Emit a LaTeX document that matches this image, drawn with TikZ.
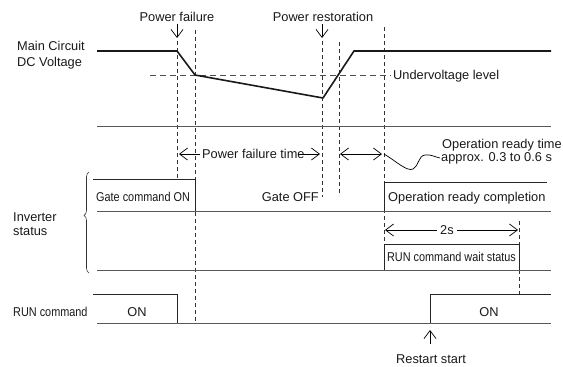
\documentclass[tikz,border=0pt]{standalone}
\usepackage{fontspec}
\usepackage{graphicx}
\setmainfont{Liberation Sans}
\usetikzlibrary{arrows.meta,decorations.pathreplacing}
\newcommand\condtxt[1]{\scalebox{0.85}[1]{#1}}
\begin{document}
\begin{tikzpicture}[x=1pt,y=-1pt,
  txt/.style={font=\fontsize{12.8}{15}\selectfont, inner sep=0pt, text=black!90},
  baseln/.style={line width=1pt, draw=black!65},
  sig/.style={line width=0.8pt, draw=black!85},
  volt/.style={line width=1.6pt, draw=black!90},
  vdash/.style={line width=0.6pt, draw=black!80, dash pattern=on 4pt off 3pt},
  hdash/.style={line width=0.6pt, draw=black!70, dash pattern=on 6pt off 4pt},
  arr/.style={line width=0.7pt, -{Straight Barb[length=8pt,width=12pt]}},
  darr/.style={line width=0.7pt, {Straight Barb[length=8pt,width=12pt]}-{Straight Barb[length=8pt,width=12pt]}},
]
\useasboundingbox (0,0) rectangle (563,367);

% texts
\node[txt, anchor=base] (pf) at (177,21) {Power failure};
\node[txt, anchor=base] (pr) at (323,21) {Power restoration};
\node[txt, anchor=base west] (mc) at (17,50) {Main Circuit};
\node[txt, anchor=base west] (dc) at (17,66) {DC Voltage};
\node[txt, anchor=base west] (uv) at (393,79.5) {Undervoltage level};
\node[txt, anchor=base west] (pft) at (202,158.5) {Power failure time};
\node[txt, anchor=base west] (ort) at (442,148) {Operation ready time};
\node[txt, anchor=base west] (apx) at (441,161) {approx. 0.3 to 0.6 s};
\node[txt, anchor=base west] (gon) at (96,201.5) {\condtxt{Gate command ON}};
\node[txt, anchor=base east] (goff) at (319,201.5) {Gate OFF};
\node[txt, anchor=base west] (orc) at (388,201.5) {Operation ready completion};
\node[txt, anchor=base] (two) at (447,234.5) {2s};
\node[txt, anchor=base] (rcw) at (451.5,261.5) {\condtxt{RUN command wait status}};
\node[txt, anchor=base west] (inv) at (13,221) {Inverter};
\node[txt, anchor=base west] (sts) at (13,235) {status};
\node[txt, anchor=base west] (runc) at (13,316.5) {\condtxt{RUN command}};
\node[txt, anchor=base] (on1) at (137,316.5) {ON};
\node[txt, anchor=base] (on2) at (489,316.5) {ON};
\node[txt, anchor=base] (rs) at (431,363) {Restart start};

% event arrows
\draw[arr] (177,24) -- (177,38);
\draw[arr] (322,24) -- (322,38);
\draw[arr] (430,344) -- (430,330);

% vertical dashed lines
\draw[vdash] (177,41) -- (177,179);
\draw[vdash] (195,30) -- (195,323);
\draw[vdash] (322,41) -- (322,197);
\draw[vdash] (339,42) -- (339,196);
\draw[vdash] (384,27) -- (384,244);
\draw[vdash] (519,221) -- (519,294);

% undervoltage level
\draw[hdash] (150,75.5) -- (391,75.5);

% main circuit DC voltage
\draw[volt, line join=round] (97,51) -- (177,51) -- (195,75) -- (323,98) -- (354,51) -- (551,51);
\draw[baseln] (97,126) -- (551,126);

% power failure time arrows
\draw[arr] (200,154) -- (179,154);
\draw[arr] (298,154) -- (320,154);
\draw[darr] (340,154) -- (382,154);

% wavy leader
\draw[line width=0.7pt] (384,154) .. controls (396,161) and (407,172) .. (413,169)
  .. controls (419,166) and (418,156) .. (425,155)
  .. controls (430,154) and (435,157) .. (440,158);

% inverter status: gate row
\draw[sig] (93,179) -- (195,179) -- (195,211);
\draw[sig] (547,182) -- (384,182) -- (384,211);
\draw[baseln] (97,211) -- (551,211);

% 2s arrows
\draw[arr] (437,230) -- (385,230);
\draw[arr] (457,230) -- (518,230);

% run command wait status
\draw[sig] (384,270) -- (384,244) -- (519,244) -- (519,270);
\draw[baseln] (97,270) -- (551,270);

% brace
\draw[line width=0.6pt, draw=black!80, decorate, decoration={brace, amplitude=5pt, aspect=0.57}] (89,273) -- (89,172);

% RUN command row
\draw[sig] (93,294) -- (177,294) -- (177,323);
\draw[sig] (430,323) -- (430,294) -- (551,294);
\draw[baseln] (97,323) -- (551,323);
\end{tikzpicture}
\end{document}
